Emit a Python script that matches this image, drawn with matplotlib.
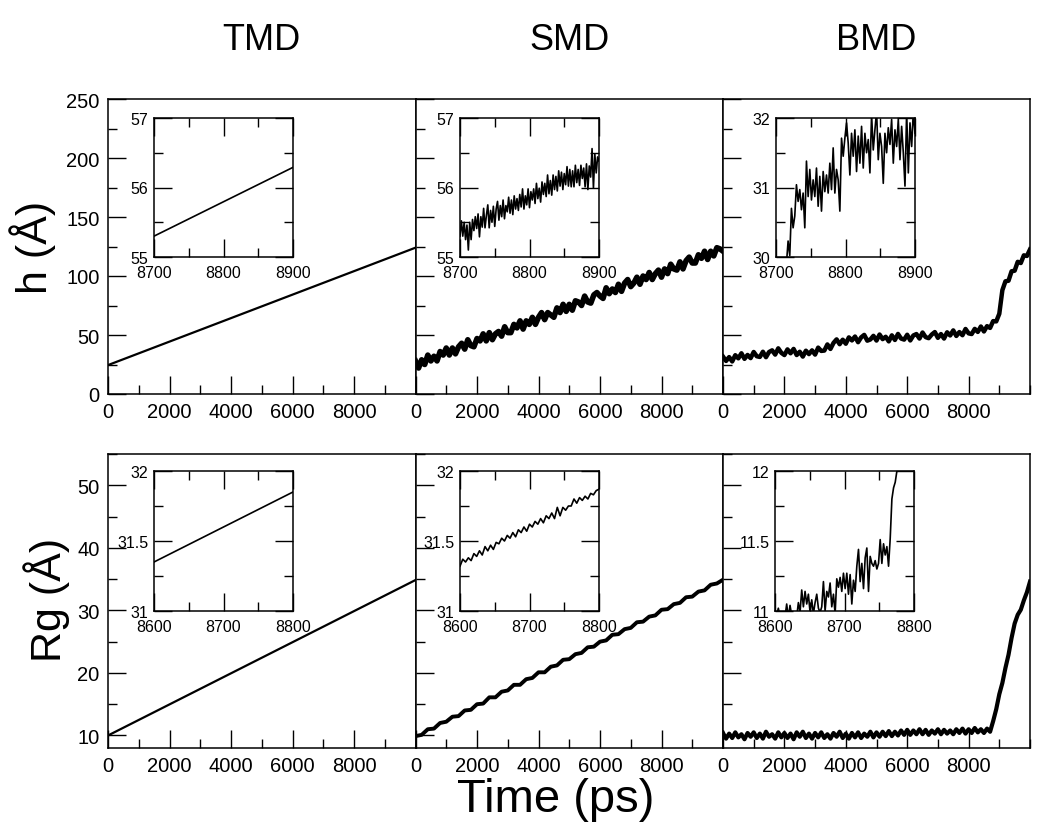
import matplotlib
matplotlib.use("Agg")
import matplotlib.pyplot as plt
import numpy as np
from matplotlib.ticker import MultipleLocator

plt.rcParams['font.family'] = ['Liberation Sans', 'DejaVu Sans']

# ---- main traces ----
t_line = [0, 10000]
tmd_h = [24.5, 124.0]
tmd_rg = [10.0, 34.85]

t100 = np.arange(0, 10001, 100)
t200 = np.arange(0, 10001, 200)

smd_h = [28, 22, 29, 25, 33, 28, 32, 28, 36, 33,
         39, 33, 39, 34, 40, 43, 38, 46, 41, 40,
         47, 45, 51, 45, 52, 46, 51, 53, 49, 57,
         52, 52, 59, 56, 62, 55, 62, 59, 65, 59,
         65, 69, 63, 69, 67, 65, 73, 69, 76, 70,
         76, 71, 79, 78, 75, 83, 78, 77, 84, 86,
         83, 81, 90, 85, 89, 86, 93, 87, 94, 97,
         91, 94, 99, 93, 100, 97, 103, 97, 102, 105,
         99, 106, 102, 110, 106, 105, 112, 106, 113, 116,
         111, 111, 118, 115, 121, 114, 121, 117, 124, 123,
         121]

bmd_h = [31.7, 28.0, 31.3, 27.6, 32.9, 30.2, 34.5, 29.8, 33.1, 30.4,
         35.6, 32.0, 31.4, 35.8, 31.2, 35.6, 37.0, 33.4, 38.7, 34.9,
         33.0, 37.8, 34.5, 38.2, 33.0, 35.8, 31.7, 36.7, 33.8, 37.0,
         33.4, 39.3, 36.5, 36.8, 42.0, 38.2, 43.3, 46.3, 42.2, 46.0,
         42.6, 48.0, 45.4, 48.7, 43.9, 48.0, 50.1, 45.2, 46.2, 49.3,
         45.3, 50.4, 46.5, 48.5, 44.6, 49.7, 45.8, 50.9, 47.0, 46.1,
         50.2, 45.4, 49.6, 50.8, 47.0, 52.1, 48.2, 47.3, 50.4, 52.5,
         47.6, 50.8, 47.0, 52.3, 49.6, 53.9, 49.2, 52.5, 49.8, 55.1,
         51.4, 50.8, 55.2, 52.6, 57.2, 53.0, 57.5, 56.0, 61.8, 61.5,
         68.0, 88.0, 95.5, 96.0, 104.0, 104.5, 112.0, 111.0, 117.5, 117.0,
         122.5]

smd_rg = [9.9, 10.1, 11.0, 11.1, 12.0, 12.2, 13.0, 13.1, 14.0, 14.1,
          15.0, 15.1, 16.1, 16.1, 17.0, 17.2, 18.1, 18.1, 19.0, 19.2,
          20.1, 20.1, 21.0, 21.2, 22.1, 22.2, 23.0, 23.2, 24.1, 24.2,
          25.0, 25.2, 26.1, 26.2, 27.0, 27.2, 28.1, 28.2, 29.0, 29.2,
          30.1, 30.2, 31.0, 31.2, 32.1, 32.2, 33.0, 33.2, 34.1, 34.3,
          34.9]

bmd_rg = [10.4, 9.5, 10.3, 9.6, 10.5, 9.7, 10.2, 9.4, 10.4, 9.8,
          10.5, 9.6, 10.3, 9.5, 10.6, 9.8, 10.2, 9.5, 10.5, 9.7,
          10.4, 9.6, 10.3, 9.4, 10.5, 9.8, 10.6, 9.6, 10.3, 9.5,
          10.4, 9.7, 10.5, 9.6, 10.2, 9.5, 10.4, 9.8, 10.6, 9.6,
          10.3, 9.5, 10.4, 9.7, 10.5, 9.6, 10.3, 9.8, 10.6, 9.7,
          10.5, 9.8, 10.6, 9.9, 10.7, 9.9, 10.6, 10.0, 10.8, 10.1,
          10.9, 10.1, 10.8, 10.2, 11.0, 10.2, 10.9, 10.1, 10.8, 10.3,
          11.0, 10.2, 10.9, 10.3, 10.8, 10.2, 11.0, 10.4, 11.1, 10.3,
          11.0, 10.4, 11.2, 10.5, 11.0, 10.4, 11.1, 10.6, 12.3, 14.2,
          16.6, 18.4, 20.8, 22.9, 25.6, 27.9, 29.3, 30.1, 31.6, 32.9,
          34.6]

# ---- inset traces ----
tmd_h_in_t = [8700, 8900]
tmd_h_in = [55.30, 56.29]

smd_h_in_t = np.arange(8700, 8901, 2)
smd_h_in = [55.30, 55.52, 55.30, 55.50, 55.25, 55.46, 55.10, 55.50, 55.25, 55.54,
            55.38, 55.58, 55.41, 55.62, 55.29, 55.58, 55.43, 55.70, 55.42, 55.60,
            55.75, 55.42, 55.67, 55.50, 55.73, 55.44, 55.69, 55.80, 55.53, 55.74,
            55.58, 55.82, 55.55, 55.74, 55.65, 55.86, 55.63, 55.82, 55.61, 55.88,
            55.69, 55.84, 55.67, 55.90, 55.72, 55.98, 55.69, 55.88, 55.75, 55.98,
            55.71, 55.94, 55.82, 55.98, 55.77, 56.06, 55.84, 55.99, 55.79, 56.08,
            55.90, 56.06, 55.87, 56.18, 55.91, 56.10, 55.89, 56.18, 55.97, 56.16,
            55.95, 56.24, 56.02, 56.22, 55.97, 56.20, 56.04, 56.30, 56.02, 56.26,
            56.01, 56.24, 56.01, 56.32, 56.07, 56.26, 56.03, 56.32, 56.13, 56.28,
            56.01, 56.34, 55.97, 56.31, 56.15, 56.56, 55.99, 56.48, 56.21, 56.44,
            56.38]

bmd_h_in_t = np.linspace(8715, 8900, 78)
bmd_h_in = [29.90, 30.23, 30.02, 30.70, 30.42, 30.59, 31.04, 30.80, 30.97, 30.68,
            30.92, 30.42, 31.38, 30.87, 31.26, 30.82, 31.11, 30.87, 31.28, 30.73,
            31.16, 30.66, 31.23, 30.94, 31.18, 30.92, 31.35, 30.97, 31.57, 30.92,
            31.26, 31.11, 30.66, 31.71, 31.45, 31.71, 31.93, 31.64, 31.18, 31.78,
            31.45, 31.83, 31.23, 31.74, 31.35, 31.88, 31.28, 31.78, 31.50, 31.69,
            31.21, 32.05, 31.54, 31.83, 32.10, 31.40, 31.78, 31.59, 31.06, 31.78,
            31.50, 31.86, 31.62, 31.98, 31.35, 31.83, 31.59, 31.98, 31.40, 31.88,
            31.50, 31.02, 32.10, 31.21, 31.93, 31.59, 32.10, 31.78]

tmd_rg_in_t = [8600, 8800]
tmd_rg_in = [31.35, 31.85]

smd_rg_in_t = np.arange(8600, 8801, 4)
smd_rg_in = [31.32, 31.37, 31.35, 31.38, 31.36, 31.41, 31.39, 31.43, 31.40, 31.46,
             31.43, 31.47, 31.44, 31.49, 31.48, 31.52, 31.50, 31.54, 31.52, 31.56,
             31.53, 31.58, 31.56, 31.60, 31.57, 31.62, 31.60, 31.64, 31.62, 31.66,
             31.63, 31.68, 31.66, 31.70, 31.66, 31.74, 31.68, 31.74, 31.72, 31.75,
             31.75, 31.80, 31.77, 31.81, 31.79, 31.82, 31.80, 31.84, 31.83, 31.86,
             31.87]

bmd_rg_in_t = np.linspace(8600, 8785, 78)
bmd_rg_in = [10.95, 10.97, 11.02, 10.96, 10.94, 10.97, 10.96, 11.05, 10.95, 11.04,
             10.97, 10.95, 10.98, 10.96, 11.06, 10.99, 11.15, 11.03, 11.14, 11.05,
             11.12, 10.99, 11.08, 10.98, 11.06, 11.12, 11.02, 10.99, 11.03, 11.21,
             11.00, 11.14, 11.10, 11.20, 11.03, 11.12, 10.98, 11.23, 11.17, 11.24,
             11.14, 11.27, 11.16, 11.27, 11.12, 11.26, 11.05, 11.22, 11.14, 11.32,
             11.44, 11.21, 11.34, 11.16, 11.38, 11.45, 11.14, 11.39, 11.34, 11.32,
             11.36, 11.30, 11.34, 11.51, 11.34, 11.48, 11.40, 11.46, 11.32, 11.52,
             11.80, 11.88, 11.92, 12.00, 12.10, 12.20, 12.30, 12.40]

titles = ['TMD', 'SMD', 'BMD']

W, H = 1050, 828
fig = plt.figure(figsize=(W / 100, H / 100), dpi=100)


def px(x0, y0, x1, y1):
    # pixel box -> figure fraction rect
    return [x0 / W, 1 - y1 / H, (x1 - x0) / W, (y1 - y0) / H]


def style_main(ax, ylim, ymaj, ymin, show_y):
    ax.set_xlim(0, 10000)
    ax.set_ylim(*ylim)
    ax.set_xticks([0, 2000, 4000, 6000, 8000])
    ax.xaxis.set_minor_locator(MultipleLocator(1000))
    ax.yaxis.set_major_locator(MultipleLocator(ymaj))
    ax.yaxis.set_minor_locator(MultipleLocator(ymin))
    ax.tick_params(which='both', direction='in', top=False, right=False, width=1.0)
    ax.tick_params(which='major', length=13, labelsize=14.5, pad=6)
    ax.tick_params(which='minor', length=6.5)
    if not show_y:
        ax.tick_params(axis='y', labelleft=False)
    for s in ax.spines.values():
        s.set_linewidth(1.1)


def style_inset(ax, xlim, ylim, ymaj, ymin):
    ax.set_xlim(*xlim)
    ax.set_ylim(*ylim)
    ax.xaxis.set_major_locator(MultipleLocator(100))
    ax.xaxis.set_minor_locator(MultipleLocator(50))
    ax.yaxis.set_major_locator(MultipleLocator(ymaj))
    ax.yaxis.set_minor_locator(MultipleLocator(ymin))
    ax.tick_params(which='both', direction='in', top=True, right=True, width=1.0)
    ax.tick_params(which='major', length=13, labelsize=11.5, pad=4)
    ax.tick_params(which='minor', length=6.5)
    ax.tick_params(axis='x', pad=6)
    ax.yaxis.set_major_formatter(plt.FuncFormatter(lambda v, p: f'{v:g}'))
    for s in ax.spines.values():
        s.set_linewidth(1.1)


cols = [(108, 415.5), (415.5, 723), (723, 1030)]

# top row: h, bottom row: Rg
top_data = [(t_line, tmd_h, 1.6), (t100, smd_h, 4.0), (t100, bmd_h, 3.2)]
bot_data = [(t_line, tmd_rg, 1.6), (t200, smd_rg, 2.8), (t100, bmd_rg, 3.0)]

for i, (x0, x1) in enumerate(cols):
    ax = fig.add_axes(px(x0, 100, x1, 395))
    t, v, lw = top_data[i]
    ax.plot(t, v, color='black', lw=lw)
    style_main(ax, (0, 250), 50, 25, i == 0)
    fig.text((x0 + x1) / 2 / W, 1 - 40 / H, titles[i], ha='center', va='center', fontsize=26)

    ax2 = fig.add_axes(px(x0, 455, x1, 749))
    t, v, lw = bot_data[i]
    ax2.plot(t, v, color='black', lw=lw)
    style_main(ax2, (8, 55), 10, 5, i == 0)

# insets, top row
ins_top = [(154, tmd_h_in_t, tmd_h_in, (55, 57)),
           (460, smd_h_in_t, smd_h_in, (55, 57)),
           (776, bmd_h_in_t, bmd_h_in, (30, 32))]
for x0, t, v, yl in ins_top:
    ia = fig.add_axes(px(x0, 119, x0 + 139, 258))
    ia.plot(t, v, color='black', lw=1.2)
    style_inset(ia, (8700, 8900), yl, 1, 0.5)

ins_bot = [(154, tmd_rg_in_t, tmd_rg_in, (31, 32)),
           (460, smd_rg_in_t, smd_rg_in, (31, 32)),
           (775, bmd_rg_in_t, bmd_rg_in, (11, 12))]
for x0, t, v, yl in ins_bot:
    ia = fig.add_axes(px(x0, 472, x0 + 139, 612))
    ia.plot(t, v, color='black', lw=1.2)
    style_inset(ia, (8600, 8800), yl, 0.5, 0.25)

fig.text(33 / W, 1 - 247 / H, 'h (Å)', rotation=90, ha='center', va='center', fontsize=31)
fig.text(47 / W, 1 - 600 / H, 'Rg (Å)', rotation=90, ha='center', va='center', fontsize=31)
fig.text(556 / W, 1 - 800 / H, 'Time (ps)', ha='center', va='center', fontsize=34)

fig.savefig('out.png', dpi=100)
